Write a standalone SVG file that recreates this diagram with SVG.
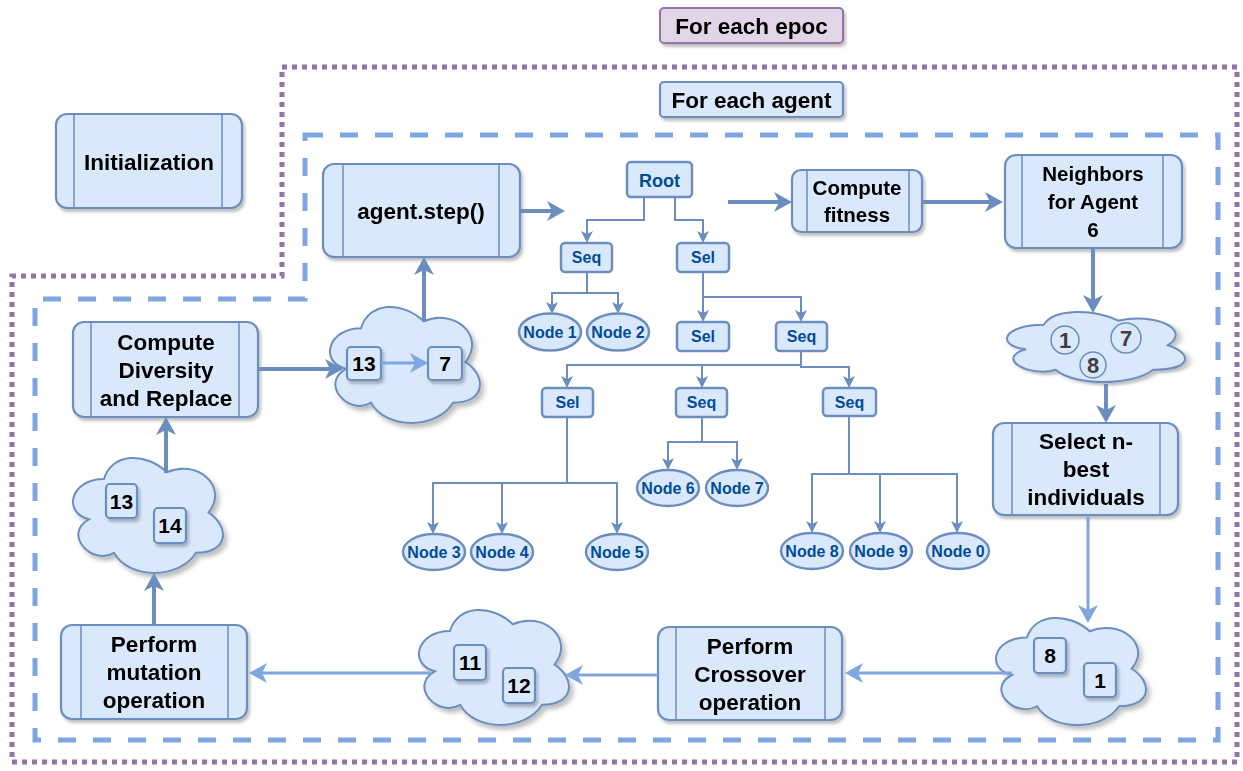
<svg xmlns="http://www.w3.org/2000/svg" width="1243" height="771" viewBox="0 0 1243 771">
<style>
.bx{fill:#dae8fc;stroke:#6c8ebf;stroke-width:2.2}
.in{stroke:#6c8ebf;stroke-width:1.5;fill:none}
.t{font-family:"Liberation Sans",Arial,sans-serif;font-weight:bold;font-size:22.5px;fill:#000;text-anchor:middle}
.ts{font-size:20.5px}
.tn{font-family:"Liberation Sans",Arial,sans-serif;font-weight:bold;font-size:16px;fill:#004C99;text-anchor:middle}
.tr{fill:#dae8fc;stroke:#6c8ebf;stroke-width:2.5}
.num{font-family:"Liberation Sans",Arial,sans-serif;font-weight:bold;font-size:21px;fill:#000;text-anchor:middle}
.cnum{font-family:"Liberation Sans",Arial,sans-serif;font-weight:bold;font-size:22px;fill:#404040;text-anchor:middle}
.ad{fill:none;stroke:#6c8ebf;stroke-width:4}
.al{fill:none;stroke:#7ea6e0;stroke-width:3}
.at{fill:none;stroke:#6c8ebf;stroke-width:2}
</style>
<defs>
<filter id="sh" x="-10%" y="-10%" width="125%" height="130%">
<feDropShadow dx="2" dy="3" stdDeviation="1.5" flood-color="#000" flood-opacity="0.25"/>
</filter>
<path id="cloud" d="M25,25 C5,25 0,50 16,55 C0,66 18,90 31,80 C40,100 70,100 80,80 C100,80 100,60 87.5,50 C100,30 80,10 62.5,20 C50,5 30,5 25,25 Z" fill="#dae8fc" stroke="#6c8ebf" stroke-width="2" vector-effect="non-scaling-stroke"/>
<marker id="md" markerUnits="userSpaceOnUse" markerWidth="18" markerHeight="20" refX="5" refY="10" orient="auto">
<path d="M0,0 L18,10 L0,20 L5,10 Z" fill="#6c8ebf"/>
</marker>
<marker id="ml" markerUnits="userSpaceOnUse" markerWidth="18" markerHeight="20" refX="5" refY="10" orient="auto">
<path d="M0,0 L18,10 L0,20 L5,10 Z" fill="#7ea6e0"/>
</marker>
<marker id="mt" markerUnits="userSpaceOnUse" markerWidth="12" markerHeight="12" refX="3" refY="6" orient="auto">
<path d="M0,0 L12,6 L0,12 L3,6 Z" fill="#6c8ebf"/>
</marker>
</defs>

<g id="frames">
<path d="M282,67 L1237,67 L1237,762 L12,762 L12,276 L282,276 Z" fill="none" stroke="#9673a6" stroke-width="5" stroke-dasharray="5 5"/>
<path d="M305,135 L1218,135 L1218,740 L35,740 L35,299 L305,299 Z" fill="none" stroke="#7ea6e0" stroke-width="5" stroke-dasharray="18 17"/>
</g>

<g id="epoc-label" filter="url(#sh)">
<rect x="660" y="8" width="183" height="35" rx="4" fill="#e1d5e7" stroke="#9673a6" stroke-width="2"/>
<text class="t" x="751.5" y="33.5">For each epoc</text>
</g>
<g id="agent-label" filter="url(#sh)">
<rect class="bx" x="660" y="82" width="183" height="35" rx="4"/>
<text class="t" x="751.5" y="107.5">For each agent</text>
</g>

<g id="initialization" filter="url(#sh)">
<rect class="bx" x="56" y="114" width="186" height="94" rx="11"/>
<line class="in" x1="74" y1="114" x2="74" y2="208"/><line class="in" x1="222" y1="114" x2="222" y2="208"/>
<text class="t" x="149" y="169.5">Initialization</text>
</g>

<g id="agent-step" filter="url(#sh)">
<rect class="bx" x="323" y="164" width="197" height="93" rx="11"/>
<line class="in" x1="343" y1="164" x2="343" y2="257"/><line class="in" x1="499" y1="164" x2="499" y2="257"/>
<text class="t" x="421" y="219">agent.step()</text>
</g>

<g id="compute-fitness" filter="url(#sh)">
<rect class="bx" x="792" y="170" width="130" height="62" rx="9"/>
<line class="in" x1="807" y1="170" x2="807" y2="232"/><line class="in" x1="909" y1="170" x2="909" y2="232"/>
<text class="t ts" x="857" y="195">Compute</text>
<text class="t ts" x="857" y="222">fitness</text>
</g>

<g id="neighbors" filter="url(#sh)">
<rect class="bx" x="1005" y="155" width="177" height="93" rx="11"/>
<line class="in" x1="1022" y1="155" x2="1022" y2="248"/><line class="in" x1="1163" y1="155" x2="1163" y2="248"/>
<text class="t ts" x="1093" y="181">Neighbors</text>
<text class="t ts" x="1093" y="209">for Agent</text>
<text class="t ts" x="1093" y="237">6</text>
</g>

<g id="select" filter="url(#sh)">
<rect class="bx" x="993" y="423" width="185" height="92" rx="11"/>
<line class="in" x1="1012" y1="423" x2="1012" y2="515"/><line class="in" x1="1160" y1="423" x2="1160" y2="515"/>
<text class="t" x="1086" y="449">Select n-</text>
<text class="t" x="1086" y="477">best</text>
<text class="t" x="1086" y="505">individuals</text>
</g>

<g id="crossover" filter="url(#sh)">
<rect class="bx" x="658" y="627" width="184" height="93" rx="11"/>
<line class="in" x1="676" y1="627" x2="676" y2="720"/><line class="in" x1="825" y1="627" x2="825" y2="720"/>
<text class="t" x="750" y="653.5">Perform</text>
<text class="t" x="750" y="681.5">Crossover</text>
<text class="t" x="750" y="709.5">operation</text>
</g>

<g id="mutation" filter="url(#sh)">
<rect class="bx" x="61" y="625" width="186" height="94" rx="11"/>
<line class="in" x1="81" y1="625" x2="81" y2="719"/><line class="in" x1="228" y1="625" x2="228" y2="719"/>
<text class="t" x="154" y="652">Perform</text>
<text class="t" x="154" y="680">mutation</text>
<text class="t" x="154" y="708">operation</text>
</g>

<g id="diversity" filter="url(#sh)">
<rect class="bx" x="73" y="322" width="185" height="95" rx="11"/>
<line class="in" x1="91" y1="322" x2="91" y2="417"/><line class="in" x1="239" y1="322" x2="239" y2="417"/>
<text class="t" x="166" y="349.5">Compute</text>
<text class="t" x="166" y="377.5">Diversity</text>
<text class="t" x="166" y="405.5">and Replace</text>
</g>

<g id="cloud-13-7">
<use href="#cloud" transform="translate(319.1,294.3) scale(1.674,1.355)" filter="url(#sh)"/>
<g filter="url(#sh)">
<rect class="bx" x="347" y="347" width="34" height="33" rx="4"/>
<rect class="bx" x="428" y="347" width="34" height="33" rx="4"/>
</g>
<text class="num" x="364" y="371">13</text>
<text class="num" x="445" y="371">7</text>
</g>

<g id="cloud-1-7-8">
<use href="#cloud" transform="translate(994.1,304.3) scale(1.987,0.818)" filter="url(#sh)"/>
<circle cx="1065" cy="340" r="14" fill="#dae8fc" stroke="#6c8ebf" stroke-width="1.5"/>
<circle cx="1126" cy="338" r="15" fill="#dae8fc" stroke="#6c8ebf" stroke-width="1.5"/>
<circle cx="1093" cy="365" r="13" fill="#dae8fc" stroke="#6c8ebf" stroke-width="1.5"/>
<text class="cnum" x="1065" y="348">1</text>
<text class="cnum" x="1126" y="346">7</text>
<text class="cnum" x="1093" y="373">8</text>
</g>

<g id="cloud-8-1">
<use href="#cloud" transform="translate(985.1,606.25) scale(1.674,1.25)" filter="url(#sh)"/>
<g filter="url(#sh)">
<rect class="bx" x="1034" y="638" width="32" height="35" rx="4"/>
<rect class="bx" x="1084" y="663" width="32" height="34" rx="4"/>
</g>
<text class="num" x="1050" y="663">8</text>
<text class="num" x="1100" y="688">1</text>
</g>

<g id="cloud-11-12">
<use href="#cloud" transform="translate(408.1,597.4) scale(1.674,1.343)" filter="url(#sh)"/>
<g filter="url(#sh)">
<rect class="bx" x="454" y="645" width="32" height="35" rx="4"/>
<rect class="bx" x="503" y="668" width="32" height="35" rx="4"/>
</g>
<text class="num" x="470" y="670">11</text>
<text class="num" x="519" y="693">12</text>
</g>

<g id="cloud-13-14">
<use href="#cloud" transform="translate(62.1,445.4) scale(1.674,1.343)" filter="url(#sh)"/>
<g filter="url(#sh)">
<rect class="bx" x="106" y="484" width="31" height="34" rx="4"/>
<rect class="bx" x="154" y="508" width="32" height="35" rx="4"/>
</g>
<text class="num" x="121.5" y="509">13</text>
<text class="num" x="170" y="533">14</text>
</g>

<g id="tree-nodes">
<g id="root"><rect class="tr" x="627" y="162" width="65" height="35" rx="4"/><text class="tn" x="659.5" y="186.5" style="font-size:18px">Root</text></g>
<g id="seq1"><rect class="tr" x="561" y="243" width="51" height="29" rx="4"/><text class="tn" x="586.5" y="263">Seq</text></g>
<g id="sel1"><rect class="tr" x="677" y="243" width="52" height="29" rx="4"/><text class="tn" x="703" y="263">Sel</text></g>
<g id="sel2"><rect class="tr" x="677" y="322" width="52" height="29" rx="4"/><text class="tn" x="703" y="342">Sel</text></g>
<g id="seq2"><rect class="tr" x="776" y="322" width="51" height="29" rx="4"/><text class="tn" x="801.5" y="342">Seq</text></g>
<g id="sel3"><rect class="tr" x="542" y="388" width="51" height="29" rx="4"/><text class="tn" x="567.5" y="408">Sel</text></g>
<g id="seq3"><rect class="tr" x="676" y="388" width="51" height="29" rx="4"/><text class="tn" x="701.5" y="408">Seq</text></g>
<g id="seq4"><rect class="tr" x="823" y="388" width="53" height="28" rx="4"/><text class="tn" x="849.5" y="408">Seq</text></g>
<g id="node1"><ellipse class="tr" cx="550" cy="332" rx="31" ry="18.5"/><text class="tn" x="550" y="338">Node 1</text></g>
<g id="node2"><ellipse class="tr" cx="618" cy="332" rx="31" ry="18.5"/><text class="tn" x="618" y="338">Node 2</text></g>
<g id="node3"><ellipse class="tr" cx="434" cy="552" rx="31" ry="18"/><text class="tn" x="434" y="558">Node 3</text></g>
<g id="node4"><ellipse class="tr" cx="502" cy="552" rx="31" ry="18"/><text class="tn" x="502" y="558">Node 4</text></g>
<g id="node5"><ellipse class="tr" cx="617" cy="552" rx="31" ry="18"/><text class="tn" x="617" y="558">Node 5</text></g>
<g id="node6"><ellipse class="tr" cx="668" cy="488" rx="31" ry="18"/><text class="tn" x="668" y="494">Node 6</text></g>
<g id="node7"><ellipse class="tr" cx="737" cy="488" rx="31" ry="18"/><text class="tn" x="737" y="494">Node 7</text></g>
<g id="node8"><ellipse class="tr" cx="812" cy="551" rx="31" ry="18"/><text class="tn" x="812" y="557">Node 8</text></g>
<g id="node9"><ellipse class="tr" cx="881" cy="551" rx="31" ry="18"/><text class="tn" x="881" y="557">Node 9</text></g>
<g id="node0"><ellipse class="tr" cx="958" cy="551" rx="31" ry="18"/><text class="tn" x="958" y="557">Node 0</text></g>
</g>

<g id="connectors">
<path class="ad" d="M520,211 L552,211" marker-end="url(#md)"/>
<path class="ad" d="M728,202 L779,202" marker-end="url(#md)"/>
<path class="ad" d="M922,202 L990,202" marker-end="url(#md)"/>
<path class="ad" d="M1093,248 L1093,300" marker-end="url(#md)"/>
<path class="ad" d="M1106,384 L1106,410" marker-end="url(#md)"/>
<path class="ad" d="M154,625 L154,586" marker-end="url(#md)"/>
<path class="ad" d="M166,473 L166,430" marker-end="url(#md)"/>
<path class="ad" d="M258,369 L330,369" marker-end="url(#md)"/>
<path class="ad" d="M424,322 L424,270" marker-end="url(#md)"/>
<path class="al" d="M1088,515 L1088,610" marker-end="url(#ml)"/>
<path class="al" d="M1012,673 L858,673" marker-end="url(#ml)"/>
<path class="al" d="M658,675 L578,675" marker-end="url(#ml)"/>
<path class="al" d="M431,673 L262,673" marker-end="url(#ml)"/>
<path class="al" d="M381,363 L415,363" marker-end="url(#ml)"/>
<path class="at" d="M644,197 L644,220 L587,220 L587,234" marker-end="url(#mt)"/>
<path class="at" d="M675,197 L675,220 L703,220 L703,234" marker-end="url(#mt)"/>
<path class="at" d="M587,272 L587,293 L552,293 L552,305" marker-end="url(#mt)"/>
<path class="at" d="M587,293 L618,293 L618,305" marker-end="url(#mt)"/>
<path class="at" d="M703,272 L703,313" marker-end="url(#mt)"/>
<path class="at" d="M703,297 L801,297 L801,313" marker-end="url(#mt)"/>
<path class="at" d="M801,351 L801,365 L567,365 L567,379" marker-end="url(#mt)"/>
<path class="at" d="M702,365 L702,379" marker-end="url(#mt)"/>
<path class="at" d="M801,365 L801,367 L849,367 L849,379" marker-end="url(#mt)"/>
<path class="at" d="M567,417 L567,483 L433,483 L433,525" marker-end="url(#mt)"/>
<path class="at" d="M502,483 L502,525" marker-end="url(#mt)"/>
<path class="at" d="M567,483 L617,483 L617,525" marker-end="url(#mt)"/>
<path class="at" d="M702,417 L702,442 L668,442 L668,461" marker-end="url(#mt)"/>
<path class="at" d="M702,442 L737,442 L737,461" marker-end="url(#mt)"/>
<path class="at" d="M849,416 L849,474 L812,474 L812,524" marker-end="url(#mt)"/>
<path class="at" d="M880,474 L880,524" marker-end="url(#mt)"/>
<path class="at" d="M849,474 L957,474 L957,524" marker-end="url(#mt)"/>
</g>
</svg>
